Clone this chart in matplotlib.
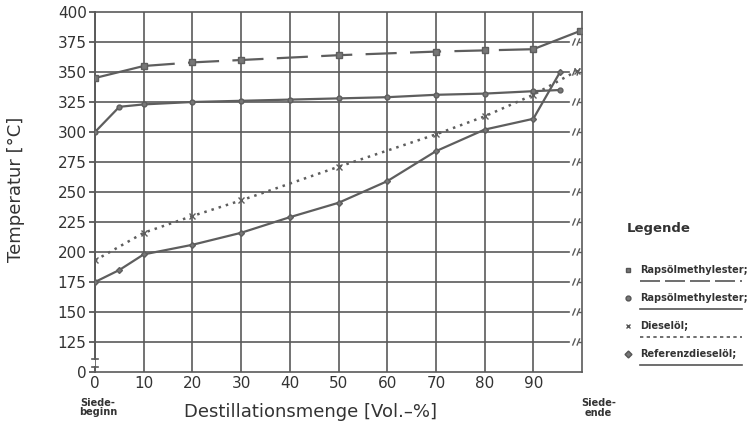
import matplotlib
matplotlib.use("Agg")
import matplotlib.pyplot as plt
from matplotlib.lines import Line2D

# Siedeverlauf (Destillationskurven) der vier Kraftstoffe
rme1_x = [0, 10, 20, 30, 50, 70, 80, 90, 99.5]
rme1_t = [345, 355, 358, 360, 364, 367, 368, 369, 384]

rme2_x = [0, 5, 10, 20, 30, 40, 50, 60, 70, 80, 90, 95.5]
rme2_t = [300, 321, 323, 325, 326, 327, 328, 329, 331, 332, 334, 335]

diesel_x = [0, 10, 20, 30, 50, 70, 80, 90, 99]
diesel_t = [193, 216, 230, 243, 271, 298, 313, 331, 351]

ref_x = [0, 5, 10, 20, 30, 40, 50, 60, 70, 80, 90, 95.5]
ref_t = [175, 185, 198, 206, 216, 229, 241, 259, 284, 302, 311, 350]

x_ticks = [0, 10, 20, 30, 40, 50, 60, 70, 80, 90]
y_ticks = [100, 125, 150, 175, 200, 225, 250, 275, 300, 325, 350, 375, 400]
y_labels = ["0"] + [str(v) for v in y_ticks[1:]]

legend_names = ["Rapsölmethylester;", "Rapsölmethylester;", "Dieselöl;", "Referenzdieselöl;"]

ink = "#4a4a4a"
grid_c = "#5a5a5a"

fig = plt.figure(figsize=(7.48, 4.25), dpi=100)
ax = fig.add_axes([95 / 748, 1 - 372 / 425, (582 - 95) / 748, (372 - 12) / 425])

ax.set_xlim(0, 100)
ax.set_ylim(100, 400)

# gitter
for xv in x_ticks:
    ax.axvline(xv, color=grid_c, lw=1.2, zorder=1)
for yv in y_ticks[1:-1]:
    ax.plot([0, 97.3], [yv, yv], color=grid_c, lw=1.2, zorder=1)
    # bruchzeichen am rechten rand
    ax.plot([100 - 1.9, 100 - 1.4], [yv - 2.5, yv + 2.5], color=grid_c, lw=1.0)
    ax.plot([100 - 1.0, 100 - 0.5], [yv - 2.5, yv + 2.5], color=grid_c, lw=1.0)
    ax.plot([99.3, 100], [yv, yv], color=grid_c, lw=1.0)

for side in ["top", "right", "bottom"]:
    ax.spines[side].set_color(grid_c)
    ax.spines[side].set_linewidth(1.2)
ax.spines["left"].set_visible(False)
# linke achse mit unterbrechung zwischen 0 und 125
ax.plot([0, 0], [400, 111], color=grid_c, lw=1.4, clip_on=False)
ax.plot([0, 0], [104, 100], color=grid_c, lw=1.4, clip_on=False)
ax.plot([-0.7, 0.7], [111, 111], color=grid_c, lw=1.2, clip_on=False)
ax.plot([-0.7, 0.7], [104, 104], color=grid_c, lw=1.2, clip_on=False)

lc = "#5e5e5e"
# erste und letzte strecke durchgezogen, dazwischen gestrichelt
ax.plot(rme1_x[:2], rme1_t[:2], color=lc, lw=1.6, zorder=3)
ax.plot(rme1_x[-2:], rme1_t[-2:], color=lc, lw=1.6, zorder=3)
ax.plot(rme1_x[1:-1], rme1_t[1:-1], color=lc, lw=1.6, dashes=(14, 6), zorder=3)
ax.plot(rme1_x, rme1_t, ls="none", marker="s", ms=4,
        mfc="#777777", mec=lc, zorder=4)
ax.plot(rme2_x, rme2_t, color=lc, lw=1.6, marker="o", ms=3.5,
        mfc="#777777", mec=lc, zorder=3)
ax.plot(diesel_x, diesel_t, color=lc, lw=1.8, linestyle=(0, (1, 2)), marker="x", ms=4,
        mec=lc, zorder=3)
ax.plot(ref_x, ref_t, color=lc, lw=1.6, marker="D", ms=3,
        mfc="#777777", mec=lc, zorder=3)

ax.set_xticks(x_ticks)
ax.set_yticks(y_ticks)
ax.set_yticklabels(y_labels)
ax.tick_params(axis="both", colors=ink, labelsize=11, length=4, width=1.2, pad=2)
ax.tick_params(axis="x", length=0, pad=3)
for lab in ax.get_xticklabels() + ax.get_yticklabels():
    lab.set_color("#333333")

fig.text(0.131, 0.042, "Siede-\nbeginn", fontsize=7, color="#333333",
         ha="center", va="center", fontweight="bold", linespacing=0.9)
fig.text(0.800, 0.040, "Siede-\nende", fontsize=7, color="#333333",
         ha="center", va="center", fontweight="bold", linespacing=0.9)
fig.text(0.415, 0.030, "Destillationsmenge [Vol.\u2013%]", fontsize=13,
         color="#333333", ha="center", va="center")
fig.text(0.022, 0.555, "Temperatur [°C]", fontsize=13, color="#333333",
         rotation=90, ha="center", va="center")

# legende
fig.text(0.838, 0.463, "Legende", fontsize=9.5, color="#333333",
         ha="left", va="center", fontweight="bold")
legend_styles = [
    dict(marker="s", ls=(0, (12, 3))),
    dict(marker="o", ls="-"),
    dict(marker="x", ls=(0, (2, 2))),
    dict(marker="D", ls="-"),
]
for i, (name, st) in enumerate(zip(legend_names, legend_styles)):
    yc = 1 - (270 + 28 * i) / 425
    fig.lines.append(Line2D([0.840], [yc], transform=fig.transFigure, marker=st["marker"],
                            ms=3.5, color="#555555", mfc="#777777", ls="none"))
    fig.text(0.856, yc, name, fontsize=7, color="#333333", ha="left", va="center",
             fontweight="bold")
    fig.lines.append(Line2D([0.856, 0.992], [yc - 0.026, yc - 0.026],
                            transform=fig.transFigure, color="#555555", lw=1.2,
                            linestyle=st["ls"]))

fig.savefig("out.png", dpi=100)
